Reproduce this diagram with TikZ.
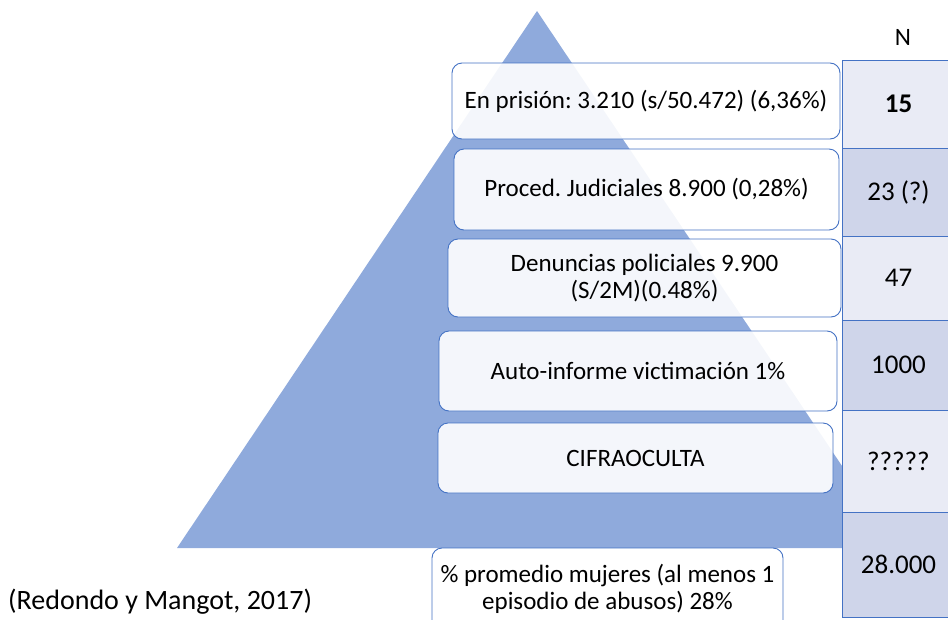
\documentclass[tikz,border=0pt]{standalone}
\usepackage{fontspec}
\setmainfont{Carlito}
\usetikzlibrary{positioning}

\definecolor{piramide}{HTML}{8FAADC}
\definecolor{borde}{HTML}{4472C4}
\definecolor{celdaclara}{HTML}{E9EBF5}
\definecolor{celdaoscura}{HTML}{CFD5EA}

\tikzset{
	caja/.style={draw=borde, line width=0.9pt, rounded corners=10pt, fill=white, fill opacity=0.9, text opacity=1, align=center, inner sep=0pt, font=\fontsize{25}{27}\selectfont},
	celda/.style={draw=borde, line width=0.9pt, minimum width=113pt, inner sep=0pt, font=\fontsize{27}{29}\selectfont},
}

\begin{document}
\frenchspacing
\begin{tikzpicture}[x=1pt, y=-1pt]
	\useasboundingbox (0,0) rectangle (948,619);
	% piramide
	\coordinate (cima) at (537,11);
	\coordinate (baseizq) at (177,548);
	\coordinate (baseder) at (897,548);
	\fill[piramide] (cima) -- (baseder) -- (baseizq) -- cycle;
	% cajas
	\node[caja, minimum width=388pt, minimum height=76pt] (prision) at (646,101) {En prisión: 3.210 (s/50.472) (6,36\%)};
	\node[caja, minimum width=385pt, minimum height=81pt] (proced) at (646.5,189.5) {Proced. Judiciales 8.900 (0,28\%)};
	\node[caja, minimum width=393pt, minimum height=78pt] (denuncias) at (644.5,278) {Denuncias policiales 9.900\\(S/2M)(0.48\%)};
	\node[caja, minimum width=398pt, minimum height=80pt] (autoinforme) at (638,371) {Auto-informe victimación 1\%};
	\node[caja, minimum width=395pt, minimum height=70pt] (cifra) at (635.5,458) {CIFRAOCULTA};
	\node[caja, minimum width=351pt, minimum height=82pt] (promedio) at (607.5,589) {\% promedio mujeres (al menos 1\\episodio de abusos) 28\%};
	% columna N
	\node[font=\fontsize{25}{27}\selectfont] (cabecera) at (903,37) {N};
	\node[celda, fill=celdaclara, minimum height=88pt] (n1) at (898.5,104) {\textbf{15}};
	\node[celda, fill=celdaoscura, minimum height=88pt] (n2) at (898.5,192) {23 (?)};
	\node[celda, fill=celdaclara, minimum height=84pt] (n3) at (898.5,278) {47};
	\node[celda, fill=celdaoscura, minimum height=90pt] (n4) at (898.5,365) {1000};
	\node[celda, fill=celdaclara, minimum height=102pt] (n5) at (898.5,461) {?????};
	\node[celda, fill=celdaoscura, minimum height=105pt] (n6) at (898.5,564.5) {28.000};
	% fuente
	\node[anchor=west, inner sep=0pt, font=\fontsize{28}{30}\selectfont] (fuente) at (8,602) {(Redondo y Mangot, 2017)};
\end{tikzpicture}
\end{document}
